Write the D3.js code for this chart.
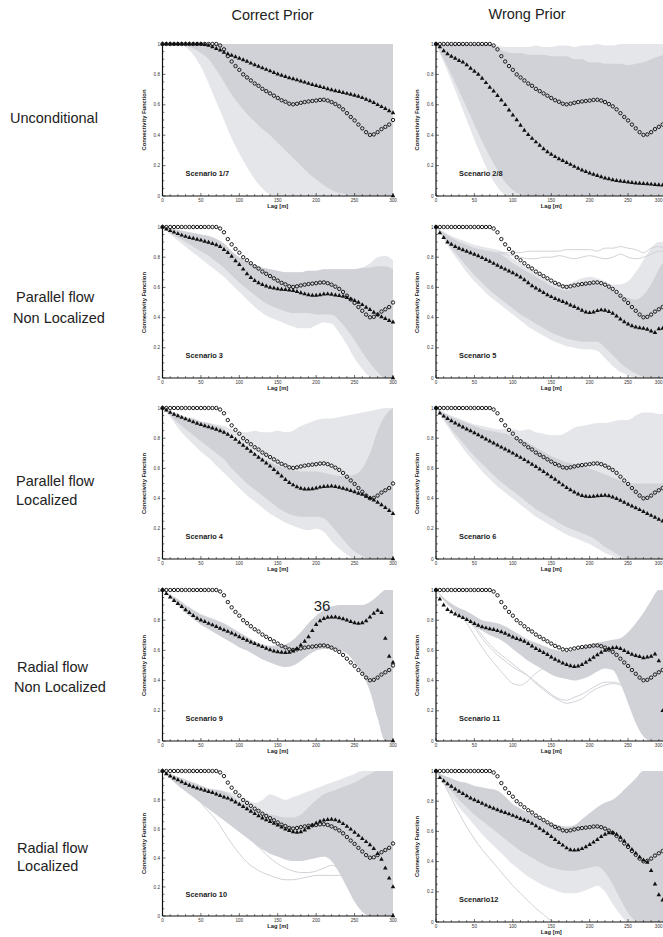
<!DOCTYPE html>
<html><head><meta charset="utf-8">
<script src="https://cdn.jsdelivr.net/npm/d3@7"></script>
<style>html,body{margin:0;padding:0;background:#fff;}svg{display:block;font-family:"Liberation Sans",Arial,sans-serif;}</style>
</head><body>
<script>
// ---------- DATA ----------
const LAGS = d3.range(0, 301, 5);        // marker lags [m]
const BAND_LAGS = d3.range(0, 301, 10);  // ensemble envelope lags [m]
const X_TICKS = [0, 50, 100, 150, 200, 250, 300];
const Y_TICKS = [0, 0.2, 0.4, 0.6, 0.8, 1];
const COL_TITLES = ["Correct Prior", "Wrong Prior"];
const ROW_LABELS = [["Unconditional"], ["Parallel flow", "Non Localized"], ["Parallel flow", "Localized"], ["Radial flow", "Non Localized"], ["Radial flow", "Localized"]];
const SCENARIOS = [["Scenario 1/7", "Scenario 2/8"], ["Scenario  3", "Scenario 5"], ["Scenario  4", "Scenario 6"], ["Scenario 9", "Scenario 11"], ["Scenario 10", "Scenario12"]];

// reference (true field) connectivity - circles, same in all panels
const circleRef = [1,1,1,1,1,1,1,1,1,1,1,1,1,1,1,
  0.99,0.965,0.92,0.885,0.855,0.83,0.8,0.78,0.76,0.74,0.725,0.705,0.69,0.675,0.66,0.645,0.63,0.62,0.607,0.603,
  0.607,0.613,0.618,0.622,0.625,0.628,0.632,0.633,0.628,0.618,0.605,0.59,0.57,0.545,0.52,0.497,0.47,0.445,0.42,0.402,
  0.405,0.42,0.44,0.455,0.47,0.5];

// ensemble mean - triangles
const tri_s17 = [1,1,1,1,1,1,1,1,1,1,1,
  0.995,0.99,0.98,0.97,0.96,0.945,0.935,0.925,0.915,0.905,0.895,0.885,0.873,0.862,0.852,0.842,0.832,0.822,0.812,0.802,
  0.793,0.785,0.777,0.77,0.763,0.755,0.748,0.74,0.733,0.726,0.72,0.712,0.705,0.698,0.692,0.686,0.68,0.674,0.668,0.662,
  0.655,0.646,0.636,0.626,0.614,0.6,0.587,0.574,0.56,0.547];
const tri_s28 = [1,0.98,0.955,0.935,0.918,0.905,0.89,0.88,0.862,0.84,0.82,0.8,0.773,0.745,0.715,0.69,0.66,0.63,0.6,0.565,
  0.532,0.5,0.465,0.432,0.403,0.378,0.355,0.333,0.31,0.29,0.273,0.258,0.244,0.232,0.22,0.207,0.194,0.182,0.17,0.16,
  0.15,0.142,0.134,0.126,0.118,0.112,0.106,0.101,0.097,0.094,0.091,0.088,0.085,0.083,0.081,0.079,0.077,0.075,0.073,0.071,0.069];
const tri_s3 = [1,0.985,0.975,0.965,0.955,0.945,0.937,0.93,0.925,0.918,0.912,0.905,0.898,0.89,0.882,0.87,0.85,0.83,0.805,0.775,
  0.75,0.72,0.69,0.665,0.645,0.63,0.618,0.608,0.6,0.595,0.59,0.587,0.585,0.582,0.578,0.572,0.563,0.556,0.55,0.547,
  0.547,0.55,0.555,0.556,0.553,0.548,0.545,0.54,0.532,0.522,0.512,0.5,0.485,0.468,0.452,0.435,0.42,0.405,0.393,0.38,0.37];
const tri_s5 = [1,0.96,0.93,0.9,0.885,0.87,0.858,0.848,0.838,0.828,0.818,0.808,0.796,0.784,0.772,0.758,0.745,0.733,0.72,0.708,
  0.696,0.682,0.668,0.65,0.63,0.61,0.595,0.58,0.565,0.55,0.538,0.526,0.515,0.505,0.495,0.483,0.472,0.46,0.447,0.436,
  0.432,0.436,0.445,0.45,0.448,0.44,0.428,0.41,0.39,0.372,0.356,0.345,0.337,0.332,0.328,0.322,0.31,0.3,0.325,0.328,0.325];
const tri_s4 = [1,0.985,0.97,0.958,0.947,0.937,0.927,0.917,0.907,0.898,0.89,0.882,0.874,0.866,0.858,0.848,0.838,0.825,0.81,0.792,
  0.772,0.752,0.732,0.712,0.692,0.673,0.654,0.635,0.614,0.592,0.57,0.548,0.526,0.505,0.49,0.477,0.468,0.463,0.462,0.464,
  0.469,0.475,0.479,0.481,0.482,0.479,0.474,0.468,0.46,0.452,0.444,0.435,0.427,0.415,0.403,0.39,0.375,0.358,0.34,0.32,0.3];
const tri_s6 = [1,0.965,0.945,0.93,0.915,0.9,0.886,0.873,0.86,0.848,0.835,0.822,0.808,0.794,0.78,0.767,0.754,0.74,0.727,0.714,
  0.7,0.686,0.672,0.657,0.642,0.627,0.611,0.595,0.578,0.561,0.544,0.527,0.508,0.49,0.473,0.458,0.443,0.43,0.42,0.414,
  0.412,0.414,0.418,0.42,0.421,0.418,0.41,0.4,0.388,0.375,0.362,0.35,0.338,0.326,0.313,0.3,0.288,0.275,0.262,0.25,0.24];
const tri_s9 = [1,0.975,0.952,0.93,0.91,0.89,0.868,0.85,0.83,0.812,0.8,0.79,0.778,0.768,0.757,0.746,0.735,0.725,0.714,0.702,
  0.69,0.678,0.666,0.655,0.644,0.634,0.624,0.613,0.603,0.595,0.59,0.587,0.585,0.586,0.595,0.612,0.635,0.66,0.69,0.73,
  0.77,0.795,0.81,0.818,0.82,0.82,0.815,0.808,0.8,0.79,0.782,0.778,0.782,0.795,0.82,0.845,0.865,0.85,0.68,0.56,0.52];
const tri_s11 = [1,0.94,0.9,0.87,0.855,0.84,0.828,0.816,0.803,0.79,0.777,0.765,0.755,0.748,0.742,0.737,0.73,0.722,0.712,0.7,
  0.688,0.678,0.67,0.66,0.645,0.628,0.612,0.598,0.585,0.572,0.555,0.54,0.528,0.515,0.505,0.497,0.492,0.495,0.505,0.52,
  0.537,0.553,0.57,0.587,0.6,0.61,0.617,0.618,0.612,0.598,0.585,0.574,0.565,0.558,0.55,0.555,0.56,0.575,0.53,0.2,0.52];
const tri_s10 = [1,0.98,0.965,0.95,0.938,0.925,0.912,0.9,0.89,0.882,0.874,0.866,0.858,0.85,0.84,0.83,0.82,0.812,0.8,0.785,
  0.77,0.754,0.738,0.722,0.706,0.69,0.675,0.662,0.65,0.638,0.626,0.612,0.598,0.588,0.58,0.577,0.58,0.592,0.608,0.625,
  0.64,0.652,0.66,0.665,0.666,0.662,0.652,0.636,0.618,0.598,0.577,0.555,0.534,0.512,0.49,0.465,0.43,0.39,0.33,0.26,0.2];
const tri_s12 = [1,0.955,0.935,0.915,0.898,0.88,0.865,0.85,0.835,0.82,0.808,0.797,0.785,0.773,0.762,0.752,0.742,0.733,0.724,0.715,
  0.705,0.695,0.685,0.675,0.665,0.652,0.637,0.62,0.603,0.585,0.565,0.545,0.525,0.508,0.49,0.478,0.475,0.478,0.485,0.497,
  0.512,0.528,0.545,0.565,0.58,0.59,0.592,0.58,0.56,0.535,0.508,0.48,0.455,0.43,0.41,0.395,0.34,0.25,0.18,0.145,0.12];
const TAIL_LAG = 300, TAIL_VALUE = 0;   // last mean value plotted at lag 300

// ensemble realisations - envelopes (dense core and sparse outer) at BAND_LAGS
const s17_hi = [1,1,1,1,1,1,1,1,1,1,1,1,1,1,1,1,1,1,1,1,1,1,1,1,1,1,1,1,1,1,1];
const s17_lo = [1,1,1,0.99,0.97,0.94,0.9,0.83,0.75,0.67,0.6,0.54,0.49,0.44,0.4,0.35,0.3,0.25,0.2,0.15,0.11,0.07,0.04,0.02,0.01,0,0,0,0,0,0];
const s17_loOut = [1,1,1,0.98,0.93,0.85,0.74,0.62,0.5,0.38,0.28,0.19,0.11,0.05,0.01,0,0,0,0,0,0,0,0,0,0,0,0,0,0,0,0];

const s28_hi = [1,1,1,1,1,1,1,1,0.97,0.95,0.94,0.94,0.93,0.93,0.93,0.92,0.92,0.92,0.9,0.9,0.88,0.88,0.87,0.87,0.87,0.86,0.87,0.88,0.9,0.92,0.93];
const s28_hiOut = [1,1,1,1,1,1,1,1,0.99,0.98,0.98,0.98,0.98,0.99,0.98,0.98,0.99,0.99,0.98,0.99,0.99,1,0.99,0.99,1,1,1,1,1,1,1];
const s28_lo = [1,0.9,0.8,0.69,0.58,0.47,0.36,0.26,0.17,0.09,0.04,0.01,0,0,0,0,0,0,0,0,0,0,0,0,0,0,0,0,0,0,0];
const s28_loOut = [1,0.88,0.76,0.63,0.5,0.37,0.25,0.14,0.06,0.01,0,0,0,0,0,0,0,0,0,0,0,0,0,0,0,0,0,0,0,0,0];

const s3_hi = [1,0.99,0.98,0.97,0.96,0.95,0.94,0.92,0.89,0.84,0.8,0.77,0.75,0.73,0.72,0.71,0.7,0.7,0.7,0.71,0.71,0.72,0.72,0.72,0.72,0.72,0.73,0.73,0.74,0.74,0.72];
const s3_hiOut = [1,0.99,0.98,0.97,0.96,0.95,0.94,0.92,0.89,0.84,0.8,0.77,0.75,0.73,0.72,0.71,0.7,0.7,0.7,0.71,0.71,0.72,0.72,0.72,0.72,0.72,0.73,0.76,0.8,0.81,0.78];
const s3_lo = [1,0.96,0.93,0.9,0.87,0.84,0.81,0.77,0.73,0.68,0.63,0.59,0.55,0.51,0.48,0.46,0.44,0.43,0.43,0.43,0.42,0.42,0.42,0.38,0.32,0.25,0.17,0.1,0.04,0,0];
const s3_loOut = [1,0.95,0.91,0.87,0.83,0.79,0.75,0.71,0.67,0.62,0.57,0.52,0.47,0.43,0.4,0.38,0.36,0.34,0.33,0.33,0.35,0.37,0.36,0.3,0.22,0.13,0.06,0.01,0,0,0];

const s5_hi = [1,0.96,0.93,0.9,0.88,0.86,0.85,0.84,0.83,0.8,0.76,0.73,0.7,0.67,0.64,0.61,0.59,0.58,0.6,0.62,0.63,0.62,0.6,0.58,0.55,0.53,0.52,0.55,0.62,0.72,0.8];
const s5_hiOut = [1,0.97,0.94,0.92,0.9,0.88,0.87,0.86,0.85,0.83,0.79,0.76,0.73,0.7,0.67,0.64,0.62,0.62,0.64,0.66,0.67,0.66,0.64,0.62,0.62,0.64,0.7,0.78,0.86,0.9,0.9];
const s5_lo = [1,0.93,0.86,0.8,0.74,0.68,0.63,0.58,0.54,0.5,0.46,0.42,0.39,0.36,0.33,0.3,0.28,0.26,0.25,0.24,0.24,0.24,0.2,0.15,0.1,0.06,0.03,0.01,0,0,0];
const s5_loOut = [1,0.92,0.84,0.77,0.7,0.64,0.59,0.54,0.5,0.46,0.42,0.38,0.34,0.31,0.28,0.25,0.23,0.21,0.2,0.19,0.19,0.18,0.13,0.08,0.04,0.02,0,0,0,0,0];
const s5_line1 = [null,null,null,null,null,null,null,null,0.83,0.83,0.83,0.83,0.84,0.84,0.84,0.84,0.84,0.85,0.85,0.85,0.85,0.84,0.86,0.86,0.87,0.86,0.85,0.83,0.86,0.87,0.85];
const s5_line2 = [null,null,null,null,null,null,null,null,0.83,0.82,0.81,0.8,0.79,0.79,0.8,0.8,0.81,0.8,0.79,0.8,0.81,0.8,0.79,0.8,0.82,0.8,0.79,0.8,0.82,0.84,0.83];

const s4_hi = [1,0.98,0.96,0.94,0.93,0.91,0.9,0.88,0.86,0.8,0.77,0.74,0.7,0.67,0.64,0.62,0.6,0.59,0.58,0.58,0.58,0.57,0.56,0.55,0.55,0.56,0.6,0.7,0.85,0.95,1];
const s4_hiOut = [1,0.98,0.96,0.94,0.93,0.91,0.9,0.89,0.88,0.86,0.84,0.84,0.85,0.84,0.84,0.85,0.84,0.85,0.88,0.9,0.92,0.93,0.93,0.94,0.95,0.96,0.97,0.98,0.99,1,1];
const s4_lo = [1,0.95,0.9,0.86,0.82,0.78,0.74,0.7,0.66,0.6,0.55,0.5,0.46,0.42,0.38,0.34,0.31,0.29,0.28,0.28,0.28,0.27,0.22,0.16,0.1,0.05,0.02,0,0,0,0];
const s4_loOut = [1,0.94,0.87,0.81,0.76,0.71,0.67,0.62,0.57,0.52,0.47,0.42,0.38,0.34,0.3,0.27,0.24,0.22,0.2,0.19,0.2,0.18,0.12,0.07,0.03,0,0,0,0,0,0];

const s6_hi = [1,0.97,0.94,0.92,0.9,0.88,0.86,0.85,0.84,0.83,0.81,0.79,0.77,0.74,0.71,0.68,0.66,0.64,0.63,0.62,0.6,0.58,0.56,0.54,0.52,0.5,0.5,0.5,0.5,0.5,0.5];
const s6_hiOut = [1,0.97,0.95,0.93,0.91,0.89,0.88,0.87,0.86,0.86,0.86,0.85,0.86,0.84,0.83,0.82,0.82,0.84,0.87,0.88,0.89,0.9,0.9,0.91,0.92,0.92,0.95,0.97,0.97,0.96,0.96];
const s6_lo = [1,0.93,0.86,0.8,0.74,0.68,0.63,0.58,0.53,0.49,0.45,0.41,0.37,0.33,0.3,0.27,0.24,0.21,0.19,0.17,0.15,0.12,0.08,0.05,0.02,0,0,0,0,0,0];
const s6_loOut = [1,0.92,0.84,0.77,0.7,0.64,0.58,0.53,0.48,0.44,0.4,0.36,0.32,0.28,0.25,0.22,0.19,0.16,0.14,0.12,0.1,0.07,0.04,0.02,0,0,0,0,0,0,0];

const s9_hi = [1,0.97,0.94,0.9,0.87,0.84,0.82,0.8,0.78,0.75,0.72,0.69,0.66,0.64,0.63,0.63,0.64,0.67,0.72,0.78,0.83,0.87,0.89,0.9,0.9,0.9,0.9,0.92,0.96,1,1];
const s9_lo = [1,0.95,0.9,0.85,0.81,0.77,0.74,0.71,0.68,0.65,0.62,0.6,0.57,0.54,0.52,0.5,0.49,0.5,0.53,0.57,0.6,0.61,0.61,0.6,0.58,0.52,0.44,0.33,0.15,0,0];

const s11_hi = [1,0.95,0.91,0.88,0.86,0.83,0.8,0.79,0.78,0.76,0.73,0.7,0.67,0.65,0.63,0.61,0.6,0.59,0.6,0.62,0.64,0.65,0.66,0.67,0.68,0.72,0.78,0.85,0.93,1,1];
const s11_lo = [1,0.93,0.88,0.83,0.8,0.76,0.73,0.7,0.68,0.65,0.61,0.57,0.53,0.5,0.47,0.44,0.42,0.41,0.4,0.41,0.43,0.46,0.48,0.47,0.38,0.25,0.12,0.03,0,0,0];
const s11_line1 = [null,null,null,0.84,0.78,0.7,0.62,0.55,0.49,0.43,0.38,0.37,0.4,0.45,0.48,0.49,0.5,0.5,0.5,null,null,null,null,null,null,null,null,null,null,null,null];
const s11_line2 = [null,null,null,0.84,0.8,0.75,0.68,0.62,0.57,0.53,0.49,0.46,0.43,0.38,0.34,0.3,0.27,0.25,0.26,0.28,0.32,0.35,0.37,0.38,0.37,0.34,0.3,0.12,0,null,null];
const s11_line3 = [null,null,null,0.84,0.8,0.76,0.7,0.64,0.59,0.55,0.51,0.47,0.43,0.39,0.35,0.31,0.28,0.27,0.29,0.31,0.34,0.37,0.39,0.39,0.38,0.36,0.33,0.2,0.05,0,null];

const s10_hi = [1,0.98,0.96,0.94,0.92,0.9,0.88,0.87,0.86,0.83,0.79,0.76,0.74,0.72,0.7,0.69,0.68,0.68,0.7,0.75,0.8,0.84,0.86,0.88,0.9,0.92,0.95,0.98,1,1,1];
const s10_hiOut = [1,0.98,0.96,0.94,0.92,0.9,0.88,0.87,0.86,0.85,0.82,0.8,0.78,0.8,0.84,0.82,0.8,0.82,0.84,0.86,0.88,0.9,0.92,0.94,0.96,0.98,1,1,1,1,1];
const s10_lo = [1,0.95,0.9,0.86,0.82,0.78,0.74,0.7,0.66,0.62,0.58,0.54,0.5,0.46,0.43,0.41,0.39,0.38,0.38,0.39,0.4,0.41,0.38,0.3,0.2,0.1,0.03,0,0,0,0];
const s10_line1 = [1,0.96,0.92,0.88,0.83,0.78,0.72,0.66,0.58,0.5,0.43,0.37,0.33,0.3,0.28,0.26,0.25,0.25,0.26,0.27,0.28,0.28,0.28,0.28,0.27,0.24,0.16,0.06,0,null,null];
const s10_line2 = [1,0.96,0.93,0.9,0.86,0.83,0.79,0.76,0.72,0.67,0.62,0.56,0.5,0.45,0.4,0.36,0.33,0.31,0.3,0.3,0.31,0.33,0.35,0.32,0.25,0.15,0.05,0,null,null,null];

const s12_hi = [1,0.97,0.95,0.93,0.92,0.9,0.89,0.88,0.87,0.83,0.78,0.75,0.72,0.7,0.67,0.65,0.64,0.63,0.64,0.68,0.72,0.76,0.79,0.81,0.85,0.9,0.95,1,1,1,1];
const s12_lo = [1,0.93,0.87,0.81,0.76,0.71,0.67,0.63,0.59,0.55,0.51,0.47,0.44,0.41,0.38,0.36,0.35,0.34,0.34,0.35,0.36,0.37,0.33,0.25,0.15,0.06,0.01,0,0,0,0];
const s12_loOut = [1,0.91,0.83,0.76,0.7,0.64,0.58,0.53,0.48,0.43,0.38,0.34,0.3,0.27,0.24,0.22,0.2,0.19,0.19,0.2,0.22,0.24,0.2,0.12,0.05,0,0,0,0,0,0];
const s12_line1 = [1,0.92,0.82,0.72,0.63,0.55,0.48,0.42,0.36,0.3,0.24,0.19,0.14,0.09,0.05,0.01,0,null,null,null,null,null,null,null,null,null,null,null,null,null,null];

// ---------- PANEL TABLE (built from the arrays above) ----------
const panels = [
  {row:0,col:0,tri:tri_s17,hi:s17_hi,lo:s17_lo,hiOut:s17_hi,loOut:s17_loOut,lines:[]},
  {row:0,col:1,tri:tri_s28,hi:s28_hi,lo:s28_lo,hiOut:s28_hiOut,loOut:s28_loOut,lines:[]},
  {row:1,col:0,tri:tri_s3,hi:s3_hi,lo:s3_lo,hiOut:s3_hiOut,loOut:s3_loOut,lines:[]},
  {row:1,col:1,tri:tri_s5,hi:s5_hi,lo:s5_lo,hiOut:s5_hiOut,loOut:s5_loOut,lines:[s5_line1,s5_line2]},
  {row:2,col:0,tri:tri_s4,hi:s4_hi,lo:s4_lo,hiOut:s4_hiOut,loOut:s4_loOut,lines:[]},
  {row:2,col:1,tri:tri_s6,hi:s6_hi,lo:s6_lo,hiOut:s6_hiOut,loOut:s6_loOut,lines:[]},
  {row:3,col:0,tri:tri_s9,hi:s9_hi,lo:s9_lo,hiOut:null,loOut:null,lines:[]},
  {row:3,col:1,tri:tri_s11,hi:s11_hi,lo:s11_lo,hiOut:null,loOut:null,lines:[s11_line1,s11_line2,s11_line3]},
  {row:4,col:0,tri:tri_s10,hi:s10_hi,lo:s10_lo,hiOut:s10_hiOut,loOut:s10_lo,lines:[s10_line1,s10_line2]},
  {row:4,col:1,tri:tri_s12,hi:s12_hi,lo:s12_lo,hiOut:s12_hi,loOut:s12_loOut,lines:[s12_line1]}
];

// ---------- LAYOUT ----------
const W = 663, H = 937;
const COL_X = [[162.5, 393], [436, 666.5]];
const ROW_Y = [[44, 196], [227, 378], [408, 559], [590, 741], [771, 916]];
const ROW5_RIGHT_BOTTOM = 922;
const GRAY = "#d0d2d7";
const INK = "#111";

const svg = d3.select("body").append("svg").attr("width", W).attr("height", H);

// column titles
const titleX = [272.5, 527];
COL_TITLES.forEach((t, i) => {
  svg.append("text").attr("x", titleX[i]).attr("y", i === 0 ? 20 : 19)
    .attr("text-anchor", "middle").attr("font-size", 14.5).attr("fill", "#222").text(t);
});

// row labels
const rowLabelPos = [
  [[10, 122.5]],
  [[16, 302], [13, 323]],
  [[16, 486], [16, 505]],
  [[17, 672], [14, 692]],
  [[17, 853], [17, 871]]
];
ROW_LABELS.forEach((lines, r) => {
  lines.forEach((t, k) => {
    svg.append("text").attr("x", rowLabelPos[r][k][0]).attr("y", rowLabelPos[r][k][1])
      .attr("font-size", 14.5).attr("fill", "#222").text(t);
  });
});

const defs = svg.append("defs");

panels.forEach((p, idx) => {
  const [x0, x1] = COL_X[p.col];
  const yt = ROW_Y[p.row][0];
  const yb = (p.row === 4 && p.col === 1) ? ROW5_RIGHT_BOTTOM : ROW_Y[p.row][1];
  const x = d3.scaleLinear().domain([0, 300]).range([x0, x1]);
  const y = d3.scaleLinear().domain([0, 1]).range([yb, yt]);
  const g = svg.append("g");

  const clipId = "clip" + idx;
  defs.append("clipPath").attr("id", clipId).append("rect")
    .attr("x", x0).attr("y", yt - 0.5).attr("width", x1 - x0).attr("height", yb - yt + 0.5);
  const clipM = "clipm" + idx;
  defs.append("clipPath").attr("id", clipM).append("rect")
    .attr("x", x0 - 3).attr("y", yt - 4).attr("width", x1 - x0 + 6).attr("height", yb - yt + 8);

  const band = g.append("g").attr("clip-path", `url(#${clipId})`);
  const area = (lo, hi) => d3.area()
    .x((d, i) => x(BAND_LAGS[i])).y0((d, i) => y(lo[i])).y1((d, i) => y(hi[i]))
    .curve(d3.curveMonotoneX)(BAND_LAGS);

  if (p.hiOut || p.loOut) {
    band.append("path").attr("d", area(p.loOut || p.lo, p.hiOut || p.hi))
      .attr("fill", GRAY).attr("fill-opacity", 0.55);
  }
  band.append("path").attr("d", area(p.lo, p.hi)).attr("fill", GRAY);

  const line = d3.line().defined(d => d[1] != null)
    .x(d => x(d[0])).y(d => y(d[1])).curve(d3.curveMonotoneX);
  p.lines.forEach(arr => {
    band.append("path").attr("d", line(BAND_LAGS.map((l, i) => [l, arr[i]])))
      .attr("fill", "none").attr("stroke", GRAY).attr("stroke-width", 1);
  });

  // axes (inward ticks, left + bottom only)
  const ax = g.append("g").attr("stroke", INK).attr("fill", "none");
  ax.append("line").attr("x1", x0).attr("x2", x0).attr("y1", yb).attr("y2", yt).attr("stroke-width", 1.2);
  ax.append("line").attr("x1", x0).attr("x2", x1 + 1).attr("y1", yb).attr("y2", yb).attr("stroke-width", 1.2);
  d3.range(0, 1.0001, 0.05).forEach(v => {
    const major = Math.abs(v * 5 - Math.round(v * 5)) < 1e-6;
    ax.append("line").attr("x1", x0).attr("x2", x0 + (major ? 3 : 1.8))
      .attr("y1", y(v)).attr("y2", y(v)).attr("stroke-width", 0.6);
  });
  d3.range(0, 301, 10).forEach(v => {
    const major = v % 50 === 0;
    ax.append("line").attr("x1", x(v)).attr("x2", x(v))
      .attr("y1", yb).attr("y2", yb - (major ? 3 : 1.8)).attr("stroke-width", 0.6);
  });

  const tl = g.append("g").attr("fill", "#333").attr("font-size", 4.6);
  Y_TICKS.forEach(v => {
    tl.append("text").attr("x", x0 - 2.5).attr("y", y(v) + 1.6).attr("text-anchor", "end")
      .text(v === 0 || v === 1 ? String(v) : v.toFixed(1));
  });
  X_TICKS.forEach(v => {
    const px = x(v);
    const t = tl.append("text").attr("y", yb + 6).text(v);
    if (px + 4 > W) t.attr("x", W - 0.5).attr("text-anchor", "end");   // keep the clipped end label inside the page
    else t.attr("x", px).attr("text-anchor", "middle");
  });
  g.append("text").attr("x", (x0 + x1) / 2).attr("y", yb + 12)
    .attr("text-anchor", "middle").attr("font-size", 5.8).attr("font-weight", "bold")
    .attr("fill", "#222").text("Lag [m]");
  g.append("text").attr("transform", `translate(${x0 - 17},${(yt + yb) / 2}) rotate(-90)`)
    .attr("text-anchor", "middle").attr("font-size", 5.8).attr("font-weight", "bold")
    .attr("fill", "#222").text("Connectivity Function");

  // scenario label
  g.append("text").attr("x", x0 + 23).attr("y", y(0.13))
    .attr("font-size", 7.4).attr("font-weight", "bold").attr("fill", "#222").text(SCENARIOS[p.row][p.col]);

  // markers
  const mk = g.append("g").attr("clip-path", `url(#${clipM})`);
  mk.selectAll("circle").data(LAGS.map((l, i) => [l, circleRef[i]])).join("circle")
    .attr("cx", d => x(d[0])).attr("cy", d => y(d[1])).attr("r", 1.7)
    .attr("fill", "none").attr("stroke", INK).attr("stroke-width", 0.95);
  const triPath = d3.symbol(d3.symbolTriangle, 9)();
  const triPts = LAGS.map((l, i) => [l, p.tri[i]]).concat([[TAIL_LAG, TAIL_VALUE]]);
  mk.selectAll("path.tri").data(triPts).join("path").attr("class", "tri")
    .attr("d", triPath).attr("transform", d => `translate(${x(d[0])},${y(d[1])})`)
    .attr("fill", INK);
});

// stray page number in the source figure
svg.append("text").attr("x", 322).attr("y", 611).attr("text-anchor", "middle")
  .attr("font-size", 15).attr("fill", "#222").text("36");
</script>
</body></html>
